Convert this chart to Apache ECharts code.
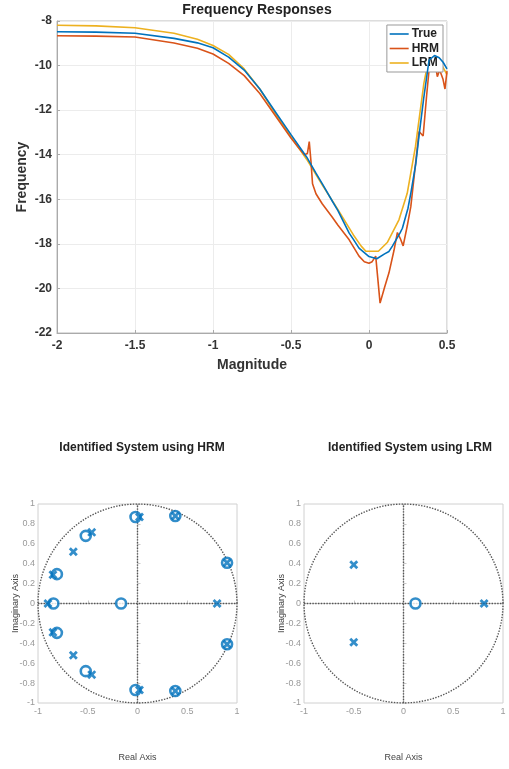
<!DOCTYPE html>
<html>
<head>
<meta charset="utf-8">
<script src="https://cdn.jsdelivr.net/npm/echarts@6/dist/echarts.min.js"></script>
<style>html,body{margin:0;padding:0;background:#fff}#c{width:509px;height:769px}</style>
</head>
<body>
<div id="c"></div>
<script>
// ---- Frequency response data ----
const xTrue = [-2, -1.75, -1.5, -1.25, -1.1, -1, -0.9, -0.8, -0.7, -0.6, -0.5, -0.4, -0.34, -0.3, -0.234, -0.2, -0.127, -0.1, -0.064, 0, 0.05, 0.1, 0.128, 0.15, 0.2, 0.214, 0.25, 0.268, 0.3, 0.32, 0.35, 0.385, 0.42, 0.45, 0.475, 0.5];
const yTrue = [-8.48, -8.5, -8.55, -8.78, -8.98, -9.2, -9.62, -10.2, -11.05, -12.08, -13.1, -14.1, -14.83, -15.3, -16.1, -16.5, -17.52, -17.8, -18.19, -18.57, -18.67, -18.45, -18.34, -18.1, -17.5, -17.3, -16.4, -15.73, -14.4, -13.19, -11.5, -9.75, -9.55, -9.65, -9.85, -10.15];

const xHRM = [-2, -1.75, -1.5, -1.25, -1.1, -1, -0.9, -0.8, -0.7, -0.6, -0.5, -0.45, -0.414, -0.395, -0.383, -0.372, -0.362, -0.34, -0.3, -0.234, -0.2, -0.127, -0.064, -0.03, 0, 0.02, 0.043, 0.071, 0.1, 0.128, 0.16, 0.182, 0.2, 0.219, 0.245, 0.268, 0.3, 0.321, 0.347, 0.37, 0.385, 0.4, 0.42, 0.438, 0.453, 0.474, 0.487, 0.5];
const yHRM = [-8.66, -8.68, -8.72, -8.99, -9.22, -9.48, -9.9, -10.45, -11.25, -12.25, -13.25, -13.7, -14.0, -13.95, -13.41, -14.3, -15.3, -15.75, -16.2, -16.82, -17.15, -17.82, -18.55, -18.8, -18.87, -18.8, -18.55, -20.66, -19.95, -19.3, -18.3, -17.49, -17.75, -18.09, -17.2, -16.33, -14.3, -12.96, -13.16, -11.3, -10.2, -9.6, -9.7, -10.5, -10.2, -10.6, -11.05, -10.25];

const xLRM = [-2, -1.75, -1.5, -1.25, -1.1, -1, -0.9, -0.8, -0.7, -0.6, -0.5, -0.4, -0.3, -0.2, -0.1, -0.05, -0.02, 0.06, 0.117, 0.192, 0.245, 0.298, 0.352, 0.38, 0.42, 0.46, 0.5];
const yLRM = [-8.19, -8.22, -8.3, -8.55, -8.82, -9.1, -9.5, -10.15, -11.05, -12.15, -13.2, -14.2, -15.35, -16.45, -17.6, -18.1, -18.33, -18.33, -17.94, -16.92, -15.73, -13.63, -10.79, -9.8, -9.6, -9.9, -10.4];

// ---- Pole / zero data ----
const hrmZeroRe = [-0.02, 0.38, 0.9, 0.9, 0.38, -0.02, -0.52, -0.52, -0.81, -0.81, -0.845, -0.165];
const hrmZeroIm = [0.87, 0.88, 0.41, -0.41, -0.88, -0.87, 0.68, -0.68, 0.295, -0.295, 0, 0];
const hrmPoleRe = [0.02, 0.38, 0.9, 0.9, 0.38, 0.02, -0.46, -0.46, -0.645, -0.645, -0.85, -0.85, -0.9, 0.8];
const hrmPoleIm = [0.87, 0.88, 0.41, -0.41, -0.88, -0.87, 0.715, -0.715, 0.52, -0.52, 0.29, -0.29, 0, 0];
const lrmZeroRe = [0.12];
const lrmZeroIm = [0];
const lrmPoleRe = [-0.5, -0.5, 0.81];
const lrmPoleIm = [0.39, -0.39, 0];

const xTicksTop = [-2, -1.5, -1, -0.5, 0, 0.5];
const yTicksTop = [-22, -20, -18, -16, -14, -12, -10, -8];

const C_TRUE = '#0072BD', C_HRM = '#D95319', C_LRM = '#EDB120', C_PZ = '#0072BD';

function pairs(xs, ys) { return xs.map((x, i) => [x, ys[i]]); }

// unit circle reference geometry (not data)
const unitCircle = [];
for (let i = 0; i <= 360; i += 2) {
  const a = i * Math.PI / 180;
  unitCircle.push([Math.cos(a), Math.sin(a)]);
}

const crossPath = 'path://M0,2.2L2.2,0L5,2.8L7.8,0L10,2.2L7.2,5L10,7.8L7.8,10L5,7.2L2.2,10L0,7.8L2.8,5Z';

const font = 'Liberation Sans, Arial, Helvetica, sans-serif';

function pzAxes(gi) {
  return {
    x: {
      type: 'value', gridIndex: gi, min: -1, max: 1, interval: 0.5,
      name: 'Real Axis', nameLocation: 'middle', nameGap: 50, nameMoveOverlap: false,
      nameTextStyle: { fontFamily: font, fontSize: 9, color: '#444' },
      axisLine: { show: true, lineStyle: { color: '#c8c8c8' } },
      axisTick: { show: true, inside: true, length: 3, lineStyle: { color: '#c8c8c8' } },
      axisLabel: { fontFamily: font, fontSize: 9, color: '#999', margin: 4,
        formatter: v => String(v) },
      splitLine: { show: false }
    },
    y: {
      type: 'value', gridIndex: gi, min: -1, max: 1, interval: 0.2,
      name: 'Imaginary Axis', nameLocation: 'middle', nameGap: 18, nameRotate: 90, nameMoveOverlap: false,
      nameTextStyle: { fontFamily: font, fontSize: 9, color: '#444' },
      axisLine: { show: true, lineStyle: { color: '#c8c8c8' } },
      axisTick: { show: true, inside: true, length: 3, lineStyle: { color: '#c8c8c8' } },
      axisLabel: { fontFamily: font, fontSize: 9, color: '#999', margin: 3,
        formatter: v => String(Math.round(v * 10) / 10) },
      splitLine: { show: false }
    }
  };
}
const pzL = pzAxes(1), pzR = pzAxes(2);

function refSeries(ax) {
  const ls = { color: '#555', width: 1.4, type: [1.4, 1.4] };
  return [
    { type: 'line', xAxisIndex: ax, yAxisIndex: ax, data: unitCircle, symbol: 'none', lineStyle: ls, silent: true, z: 1 },
    { type: 'line', xAxisIndex: ax, yAxisIndex: ax, data: [[-1, 0], [1, 0]], symbol: 'none', lineStyle: ls, silent: true, z: 1 },
    { type: 'line', xAxisIndex: ax, yAxisIndex: ax, data: [[0, -1], [0, 1]], symbol: 'none', lineStyle: ls, silent: true, z: 1 }
  ];
}
function zeroSeries(ax, re, im) {
  return { type: 'scatter', xAxisIndex: ax, yAxisIndex: ax, data: pairs(re, im), symbol: 'circle', symbolSize: 10,
    itemStyle: { color: '#fff', borderColor: C_PZ, borderWidth: 2.6 }, z: 3 };
}
function poleSeries(ax, re, im) {
  return { type: 'scatter', xAxisIndex: ax, yAxisIndex: ax, data: pairs(re, im), symbol: crossPath, symbolSize: 9,
    itemStyle: { color: C_PZ }, z: 4 };
}

const chart = echarts.init(document.getElementById('c'), null, { renderer: 'canvas' });
chart.setOption({
  animation: false,
  backgroundColor: '#fff',
  title: [
    { text: 'Frequency Responses', left: 252, top: -2, textAlign: 'center',
      textStyle: { fontFamily: font, fontSize: 14, fontWeight: 'bold', color: '#222' } },
    { text: 'Identified System using HRM', left: 137, top: 437, textAlign: 'center',
      textStyle: { fontFamily: font, fontSize: 12, fontWeight: 'bold', color: '#222' } },
    { text: 'Identified System using LRM', left: 405, top: 437, textAlign: 'center',
      textStyle: { fontFamily: font, fontSize: 12, fontWeight: 'bold', color: '#222' } }
  ],
  legend: {
    data: ['True', 'HRM', 'LRM'], orient: 'vertical', right: 66, top: 25,
    backgroundColor: '#fff', borderColor: '#999', borderWidth: 1,
    padding: [3, 4, 3, 2], itemGap: 2.5, itemWidth: 19, itemHeight: 14,
    itemStyle: { opacity: 0 },
    lineStyle: { width: 1.6 },
    textStyle: { fontFamily: font, fontSize: 12, fontWeight: 'bold', color: '#222', padding: [0, 0, 0, -2] }
  },
  grid: [
    { left: 57, top: 21, width: 390, height: 312, show: true, borderColor: '#bbb', borderWidth: 1 },
    { left: 38, top: 504, width: 199, height: 199, show: true, borderColor: '#d0d0d0', borderWidth: 1 },
    { left: 304, top: 504, width: 199, height: 199, show: true, borderColor: '#d0d0d0', borderWidth: 1 }
  ],
  xAxis: [
    { type: 'value', gridIndex: 0, min: xTicksTop[0], max: xTicksTop[xTicksTop.length - 1], interval: 0.5,
      name: 'Magnitude', nameLocation: 'middle', nameGap: 25, nameMoveOverlap: false,
      nameTextStyle: { fontFamily: font, fontSize: 14, fontWeight: 'bold', color: '#333' },
      axisLine: { show: true, onZero: false, lineStyle: { color: '#aaa' } },
      axisTick: { show: true, inside: true, length: 3, lineStyle: { color: '#aaa' } },
      axisLabel: { fontFamily: font, fontSize: 12, fontWeight: 'bold', color: '#333', margin: 7 },
      splitLine: { show: true, lineStyle: { color: '#ececec' } } },
    pzL.x, pzR.x
  ],
  yAxis: [
    { type: 'value', gridIndex: 0, min: yTicksTop[0], max: yTicksTop[yTicksTop.length - 1], interval: 2,
      name: 'Frequency', nameLocation: 'middle', nameGap: 28, nameRotate: 90, nameMoveOverlap: false,
      nameTextStyle: { fontFamily: font, fontSize: 14, fontWeight: 'bold', color: '#333' },
      axisLine: { show: true, onZero: false, lineStyle: { color: '#aaa' } },
      axisTick: { show: true, inside: true, length: 3, lineStyle: { color: '#aaa' } },
      axisLabel: { fontFamily: font, fontSize: 12, fontWeight: 'bold', color: '#333', margin: 5 },
      splitLine: { show: true, lineStyle: { color: '#ececec' } } },
    pzL.y, pzR.y
  ],
  series: [
    { name: 'True', type: 'line', xAxisIndex: 0, yAxisIndex: 0, data: pairs(xTrue, yTrue), symbol: 'none',
      lineStyle: { color: C_TRUE, width: 1.6 }, itemStyle: { color: C_TRUE }, z: 4 },
    { name: 'HRM', type: 'line', xAxisIndex: 0, yAxisIndex: 0, data: pairs(xHRM, yHRM), symbol: 'none',
      lineStyle: { color: C_HRM, width: 1.6 }, itemStyle: { color: C_HRM }, z: 3 },
    { name: 'LRM', type: 'line', xAxisIndex: 0, yAxisIndex: 0, data: pairs(xLRM, yLRM), symbol: 'none',
      lineStyle: { color: C_LRM, width: 1.6 }, itemStyle: { color: C_LRM }, z: 2 },
    ...refSeries(1),
    zeroSeries(1, hrmZeroRe, hrmZeroIm),
    poleSeries(1, hrmPoleRe, hrmPoleIm),
    ...refSeries(2),
    zeroSeries(2, lrmZeroRe, lrmZeroIm),
    poleSeries(2, lrmPoleRe, lrmPoleIm)
  ]
});
</script>
</body>
</html>
